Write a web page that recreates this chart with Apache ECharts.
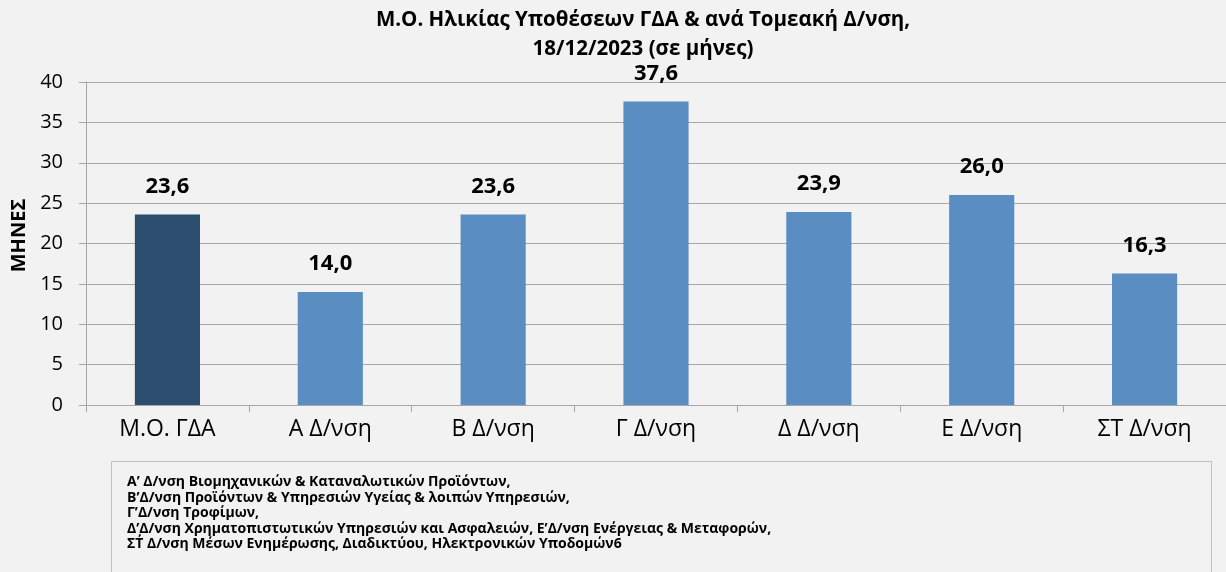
<!DOCTYPE html>
<html>
<head>
<meta charset="utf-8">
<script src="https://cdn.jsdelivr.net/npm/echarts@6/dist/echarts.min.js"></script>
<style>
  html, body { margin: 0; padding: 0; background: #f2f2f2; }
  #main { width: 1226px; height: 572px; }
</style>
</head>
<body>
<div id="main"></div>
<script>
// κατηγορίες και τιμές (μήνες)
var categories = ['Μ.Ο. ΓΔΑ', 'Α Δ/νση', 'Β Δ/νση', 'Γ Δ/νση', 'Δ Δ/νση', 'Ε Δ/νση', 'ΣΤ Δ/νση'];
var values = [23.6, 14.0, 23.6, 37.6, 23.9, 26.0, 16.3];
var yTicks = [0, 5, 10, 15, 20, 25, 30, 35, 40];
var notes = [
	'Α’ Δ/νση Βιομηχανικών & Καταναλωτικών Προϊόντων,',
	'Β’Δ/νση Προϊόντων & Υπηρεσιών Υγείας & λοιπών Υπηρεσιών,',
	'Γ’Δ/νση Τροφίμων,',
	'Δ’Δ/νση Χρηματοπιστωτικών Υπηρεσιών και Ασφαλειών, Ε’Δ/νση Ενέργειας & Μεταφορών,',
	'ΣΤ΄ Δ/νση Μέσων Ενημέρωσης, Διαδικτύου, Ηλεκτρονικών Υποδομών6'
];
var noteY = [482, 498, 513, 529, 544];

var FONT = '"Open Sans", "Noto Sans", sans-serif';

var myChart = echarts.init(document.getElementById('main'));

// κουτί υπομνήματος κάτω από το γράφημα
var noteTexts = notes.map(function (t, i) {
	return {
		type: 'text',
		x: 127,
		y: noteY[i],
		style: { text: t, font: 'bold 14px ' + FONT, fill: '#000', verticalAlign: 'middle' }
	};
});

var option = {
	backgroundColor: '#f2f2f2',
	animation: false,
	title: {
		text: 'Μ.Ο. Ηλικίας Υποθέσεων ΓΔΑ & ανά Τομεακή Δ/νση,\n18/12/2023 (σε μήνες)',
		left: 638,
		textAlign: 'center',
		top: 1,
		textStyle: {
			fontFamily: FONT,
			fontSize: 20.5,
			fontWeight: 'bold',
			color: '#000',
			lineHeight: 29
		}
	},
	grid: {
		left: 86,
		right: 0,
		top: 82,
		bottom: 167
	},
	xAxis: {
		type: 'category',
		data: categories,
		axisLine: { lineStyle: { color: '#a6a6a6', width: 1 } },
		axisTick: { show: true, length: 7, lineStyle: { color: '#a6a6a6' } },
		axisLabel: { fontFamily: FONT, fontSize: 23, color: '#000', margin: 13 }
	},
	yAxis: {
		type: 'value',
		min: yTicks[0],
		max: yTicks[yTicks.length - 1],
		interval: 5,
		name: 'ΜΗΝΕΣ',
		nameLocation: 'middle',
		nameGap: 56,
		nameTextStyle: {
			fontFamily: FONT, fontSize: 20, fontWeight: 'bold', color: '#000',
			padding: [0, 0, 0, 16]
		},
		axisLine: { show: true, lineStyle: { color: '#a6a6a6' } },
		axisTick: { show: true, inside: false, length: 7, lineStyle: { color: '#a6a6a6' } },
		axisLabel: { fontFamily: FONT, fontSize: 20, color: '#000', margin: 23 },
		splitLine: { lineStyle: { color: '#a6a6a6', width: 1 } }
	},
	series: [
		{
			type: 'bar',
			barWidth: '40%',
			data: values.map(function (v, i) {
				return {
					value: v,
					itemStyle: { color: i === 0 ? '#2c4d6e' : '#5a8dc1' }
				};
			}),
			label: {
				show: true,
				position: 'top',
				distance: 17,
				fontFamily: FONT,
				fontSize: 22,
				fontWeight: 'bold',
				color: '#000',
				formatter: function (p) { return p.value.toFixed(1).replace('.', ','); }
			}
		}
	],
	graphic: [
		{
			type: 'rect',
			x: 111.5,
			y: 461.5,
			shape: { width: 1100, height: 130 },
			style: { fill: '#f2f2f2', stroke: '#bfbfbf', lineWidth: 1 }
		}
	].concat(noteTexts)
};

myChart.setOption(option);
</script>
</body>
</html>
